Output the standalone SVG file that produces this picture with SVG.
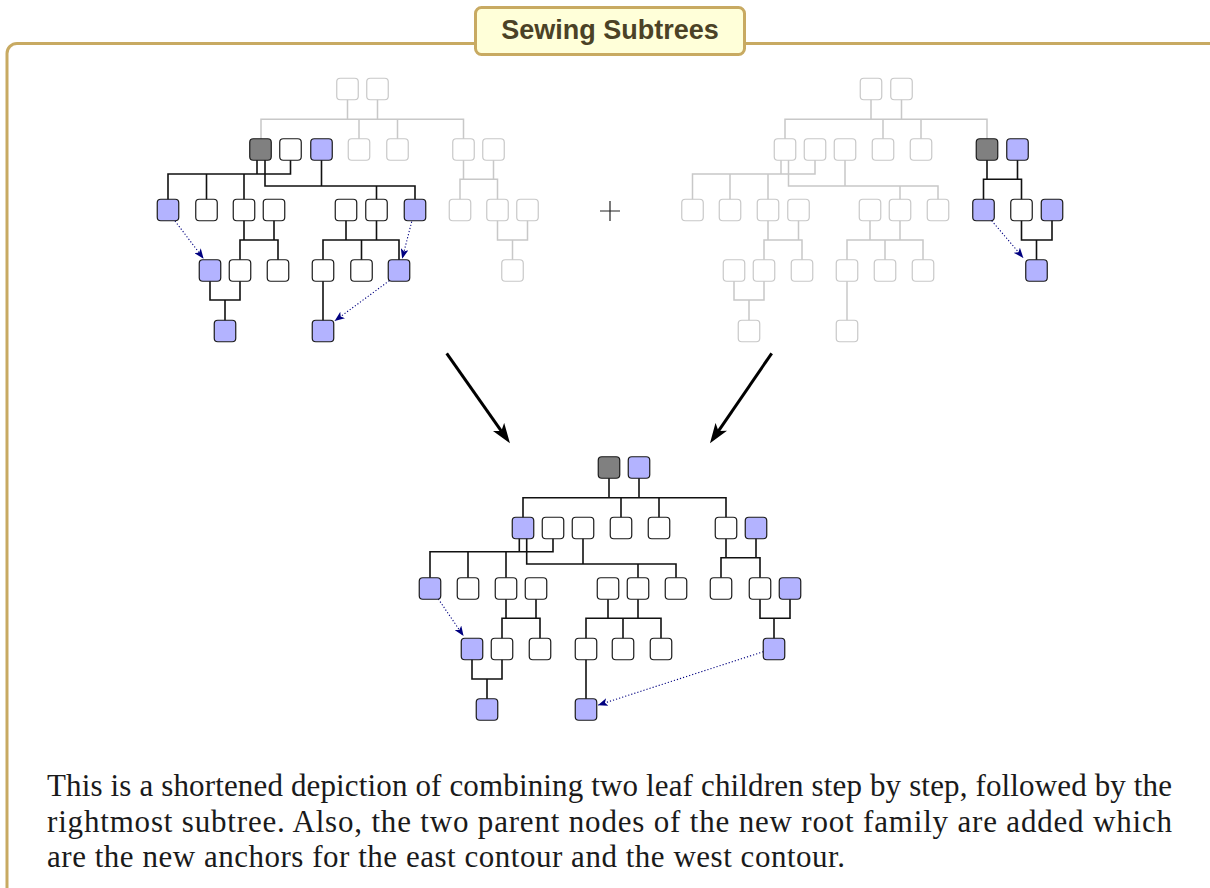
<svg xmlns="http://www.w3.org/2000/svg" width="1210" height="888" viewBox="0 0 1210 888">
<style>
.n{stroke-width:1.2;width:21.5px;height:21.5px}
.w{fill:#ffffff;stroke:#1a1a1a}
.b{fill:#b3b3ff;stroke:#1a1a1a}
.d{fill:#808080;stroke:#1a1a1a}
.f{fill:#ffffff;stroke:#c8c8c8}
.e{fill:none;stroke:#111;stroke-width:1.6;stroke-linecap:square}
.ef{fill:none;stroke:#c8c8c8;stroke-width:1.5;stroke-linecap:square}
.dot{fill:none;stroke:#000080;stroke-width:1.1;stroke-dasharray:1.2 2}
.big{fill:none;stroke:#000;stroke-width:3}
.para{font-family:"Liberation Serif","DejaVu Serif",serif;font-size:31px;fill:#1a1a1a}
</style>
<defs>
<marker id="ad" viewBox="0 0 10 8" markerUnits="userSpaceOnUse" markerWidth="10" markerHeight="8" refX="9.5" refY="4" orient="auto">
<path d="M0,0 L10,4 L0,8 L2.5,4 z" fill="#000080"/>
</marker>
<marker id="ab" viewBox="0 0 20 14" markerUnits="userSpaceOnUse" markerWidth="20" markerHeight="14" refX="6" refY="7" orient="auto">
<path d="M0,0 L20,7 L0,14 L5,7 z" fill="#000"/>
</marker>
</defs>
<rect x="0" y="0" width="1210" height="888" fill="#ffffff"/>
<g id="frame">
<rect x="7" y="43.5" width="1215" height="900" rx="10" fill="none" stroke="#c8aa62" stroke-width="3"/>
</g>
<g id="title">
<rect x="475.5" y="7.5" width="269" height="47" rx="6" fill="#ffffd9" stroke="#c8aa62" stroke-width="3"/>
<text x="610" y="39" text-anchor="middle" font-family="'Liberation Sans','DejaVu Sans',sans-serif" font-weight="bold" font-size="27" fill="#4b4226">Sewing Subtrees</text>
</g>
<g id="connectors">
<path class="ef" d="M347.5,99.75V119.3 M377.5,99.75V119.3 M261,119.3H463.5 M261,119.3V138.75 M359,119.3V138.75 M397.5,119.3V138.75 M463.5,119.3V138.75"/>
<path class="ef" d="M463.5,160.25V179.3 M493.5,160.25V179.3 M460,179.3H497.5 M460,179.3V199.25 M497.5,179.3V199.25"/>
<path class="ef" d="M497.5,220.75V240 M527.5,220.75V240 M497.5,240H527.5 M512.5,240V259.75"/>
<path class="e" d="M257,160.25V174 M290.5,160.25V174 M168,174H290.5 M168,174V199.25 M206.5,174V199.25 M244,174V199.25"/>
<path class="e" d="M265,160.25V186 M321.5,160.25V186 M265,186H415 M376.5,186V199.25 M415,186V199.25"/>
<path class="e" d="M244,220.75V240 M274,220.75V240 M240,240H278 M240,240V259.75 M278,240V259.75"/>
<path class="e" d="M346,220.75V240 M376.5,220.75V240 M323,240H399 M323,240V259.75 M361.5,240V259.75 M399,240V259.75"/>
<path class="e" d="M210,281.25V300 M240,281.25V300 M210,300H240 M225,300V320.25"/>
<path class="e" d="M323,281.25V320.25"/>
<path class="ef" d="M871,99.75V119.3 M901.5,99.75V119.3 M785,119.3H987 M785,119.3V138.75 M883,119.3V138.75 M921,119.3V138.75 M987,119.3V138.75"/>
<path class="ef" d="M781,160.25V174 M815,160.25V174 M692.5,174H815 M692.5,174V199.25 M730,174V199.25 M768,174V199.25"/>
<path class="ef" d="M788.5,160.25V186 M845,160.25V186 M788.5,186H938 M900,186V199.25 M938,186V199.25"/>
<path class="ef" d="M768,220.75V240 M798.5,220.75V240 M764,240H802 M764,240V259.75 M802,240V259.75"/>
<path class="ef" d="M870,220.75V240 M900,220.75V240 M847,240H923 M847,240V259.75 M885,240V259.75 M923,240V259.75"/>
<path class="ef" d="M734,281.25V300 M764,281.25V300 M734,300H764 M749,300V320.25"/>
<path class="ef" d="M847,281.25V320.25"/>
<path class="e" d="M987,160.25V179.3 M1017.5,160.25V179.3 M983.5,179.3H1021.5 M983.5,179.3V199.25 M1021.5,179.3V199.25"/>
<path class="e" d="M1021.5,220.75V240 M1052,220.75V240 M1021.5,240H1052 M1036.5,240V259.75"/>
<path class="e" d="M609,478.25V497.7 M639,478.25V497.7 M523,497.7H726 M523,497.7V517.25 M621,497.7V517.25 M659,497.7V517.25 M726,497.7V517.25"/>
<path class="e" d="M519.3,538.75V551.7 M553,538.75V551.7 M430,551.7H553 M430,551.7V577.75 M468,551.7V577.75 M506,551.7V577.75"/>
<path class="e" d="M526.7,538.75V564 M583,538.75V564 M526.7,564H676 M638,564V577.75 M676,564V577.75"/>
<path class="e" d="M726,538.75V557.7 M756,538.75V557.7 M721,557.7H760 M721,557.7V577.75 M760,557.7V577.75"/>
<path class="e" d="M506,599.25V618.3 M536,599.25V618.3 M502,618.3H540 M502,618.3V638.25 M540,618.3V638.25"/>
<path class="e" d="M608,599.25V618.3 M638,599.25V618.3 M586,618.3H661 M586,618.3V638.25 M623,618.3V638.25 M661,618.3V638.25"/>
<path class="e" d="M760,599.25V618.3 M790,599.25V618.3 M760,618.3H790 M774,618.3V638.25"/>
<path class="e" d="M472,659.75V679 M502,659.75V679 M472,679H502 M487,679V698.75"/>
<path class="e" d="M586,659.75V698.75"/>
<line class="dot" x1="175" y1="221" x2="203.3" y2="258.3" marker-end="url(#ad)"/>
<line class="dot" x1="411.7" y1="221.7" x2="402.3" y2="258.3" marker-end="url(#ad)"/>
<line class="dot" x1="389.3" y1="280.7" x2="335" y2="320.7" marker-end="url(#ad)"/>
<line class="dot" x1="991.7" y1="220.7" x2="1023" y2="257.5" marker-end="url(#ad)"/>
<line class="dot" x1="438.3" y1="599" x2="463.3" y2="635.7" marker-end="url(#ad)"/>
<line class="dot" x1="763.3" y1="651.7" x2="598.3" y2="705" marker-end="url(#ad)"/>
<line class="big" x1="446.7" y1="353.3" x2="501.9" y2="431.8" marker-end="url(#ab)"/>
<line class="big" x1="771.7" y1="353.3" x2="717.9" y2="431.8" marker-end="url(#ab)"/>
</g>
<g id="plus"><path d="M600,211H620 M610,201V221" stroke="#222" stroke-width="1.2" fill="none"/></g>
<g id="lf1"><rect class="n f" x="336.75" y="78.25" rx="3.5"/></g>
<g id="lf2"><rect class="n f" x="366.75" y="78.25" rx="3.5"/></g>
<g id="lf3"><rect class="n f" x="348.25" y="138.75" rx="3.5"/></g>
<g id="lf4"><rect class="n f" x="386.75" y="138.75" rx="3.5"/></g>
<g id="lf5"><rect class="n f" x="452.75" y="138.75" rx="3.5"/></g>
<g id="lf6"><rect class="n f" x="482.75" y="138.75" rx="3.5"/></g>
<g id="lf7"><rect class="n f" x="449.25" y="199.25" rx="3.5"/></g>
<g id="lf8"><rect class="n f" x="486.75" y="199.25" rx="3.5"/></g>
<g id="lf9"><rect class="n f" x="516.75" y="199.25" rx="3.5"/></g>
<g id="lf10"><rect class="n f" x="501.75" y="259.75" rx="3.5"/></g>
<g id="ld"><rect class="n d" x="249.75" y="138.75" rx="3.5"/></g>
<g id="lw1"><rect class="n w" x="279.75" y="138.75" rx="3.5"/></g>
<g id="lb1"><rect class="n b" x="310.75" y="138.75" rx="3.5"/></g>
<g id="lb2"><rect class="n b" x="157.25" y="199.25" rx="3.5"/></g>
<g id="lw2"><rect class="n w" x="195.75" y="199.25" rx="3.5"/></g>
<g id="lw3"><rect class="n w" x="233.25" y="199.25" rx="3.5"/></g>
<g id="lw4"><rect class="n w" x="263.25" y="199.25" rx="3.5"/></g>
<g id="lw5"><rect class="n w" x="335.25" y="199.25" rx="3.5"/></g>
<g id="lw6"><rect class="n w" x="365.75" y="199.25" rx="3.5"/></g>
<g id="lb3"><rect class="n b" x="404.25" y="199.25" rx="3.5"/></g>
<g id="lb4"><rect class="n b" x="199.25" y="259.75" rx="3.5"/></g>
<g id="lw7"><rect class="n w" x="229.25" y="259.75" rx="3.5"/></g>
<g id="lw8"><rect class="n w" x="267.25" y="259.75" rx="3.5"/></g>
<g id="lw9"><rect class="n w" x="312.25" y="259.75" rx="3.5"/></g>
<g id="lw10"><rect class="n w" x="350.75" y="259.75" rx="3.5"/></g>
<g id="lb5"><rect class="n b" x="388.25" y="259.75" rx="3.5"/></g>
<g id="lb6"><rect class="n b" x="214.25" y="320.25" rx="3.5"/></g>
<g id="lb7"><rect class="n b" x="312.25" y="320.25" rx="3.5"/></g>
<g id="rf1"><rect class="n f" x="860.25" y="78.25" rx="3.5"/></g>
<g id="rf2"><rect class="n f" x="890.75" y="78.25" rx="3.5"/></g>
<g id="rf3"><rect class="n f" x="774.25" y="138.75" rx="3.5"/></g>
<g id="rf4"><rect class="n f" x="804.25" y="138.75" rx="3.5"/></g>
<g id="rf5"><rect class="n f" x="834.25" y="138.75" rx="3.5"/></g>
<g id="rf6"><rect class="n f" x="872.25" y="138.75" rx="3.5"/></g>
<g id="rf7"><rect class="n f" x="910.25" y="138.75" rx="3.5"/></g>
<g id="rf8"><rect class="n f" x="681.75" y="199.25" rx="3.5"/></g>
<g id="rf9"><rect class="n f" x="719.25" y="199.25" rx="3.5"/></g>
<g id="rf10"><rect class="n f" x="757.25" y="199.25" rx="3.5"/></g>
<g id="rf11"><rect class="n f" x="787.75" y="199.25" rx="3.5"/></g>
<g id="rf12"><rect class="n f" x="859.25" y="199.25" rx="3.5"/></g>
<g id="rf13"><rect class="n f" x="889.25" y="199.25" rx="3.5"/></g>
<g id="rf14"><rect class="n f" x="927.25" y="199.25" rx="3.5"/></g>
<g id="rf15"><rect class="n f" x="723.25" y="259.75" rx="3.5"/></g>
<g id="rf16"><rect class="n f" x="753.25" y="259.75" rx="3.5"/></g>
<g id="rf17"><rect class="n f" x="791.25" y="259.75" rx="3.5"/></g>
<g id="rf18"><rect class="n f" x="836.25" y="259.75" rx="3.5"/></g>
<g id="rf19"><rect class="n f" x="874.25" y="259.75" rx="3.5"/></g>
<g id="rf20"><rect class="n f" x="912.25" y="259.75" rx="3.5"/></g>
<g id="rf21"><rect class="n f" x="738.25" y="320.25" rx="3.5"/></g>
<g id="rf22"><rect class="n f" x="836.25" y="320.25" rx="3.5"/></g>
<g id="rd"><rect class="n d" x="976.25" y="138.75" rx="3.5"/></g>
<g id="rb1"><rect class="n b" x="1006.75" y="138.75" rx="3.5"/></g>
<g id="rb2"><rect class="n b" x="972.75" y="199.25" rx="3.5"/></g>
<g id="rw1"><rect class="n w" x="1010.75" y="199.25" rx="3.5"/></g>
<g id="rb3"><rect class="n b" x="1041.25" y="199.25" rx="3.5"/></g>
<g id="rb4"><rect class="n b" x="1025.75" y="259.75" rx="3.5"/></g>
<g id="bd"><rect class="n d" x="598.25" y="456.75" rx="3.5"/></g>
<g id="bb1"><rect class="n b" x="628.25" y="456.75" rx="3.5"/></g>
<g id="bb2"><rect class="n b" x="512.25" y="517.25" rx="3.5"/></g>
<g id="bw1"><rect class="n w" x="542.25" y="517.25" rx="3.5"/></g>
<g id="bw2"><rect class="n w" x="572.25" y="517.25" rx="3.5"/></g>
<g id="bw3"><rect class="n w" x="610.25" y="517.25" rx="3.5"/></g>
<g id="bw4"><rect class="n w" x="648.25" y="517.25" rx="3.5"/></g>
<g id="bw5"><rect class="n w" x="715.25" y="517.25" rx="3.5"/></g>
<g id="bb3"><rect class="n b" x="745.25" y="517.25" rx="3.5"/></g>
<g id="bb4"><rect class="n b" x="419.25" y="577.75" rx="3.5"/></g>
<g id="bw6"><rect class="n w" x="457.25" y="577.75" rx="3.5"/></g>
<g id="bw7"><rect class="n w" x="495.25" y="577.75" rx="3.5"/></g>
<g id="bw8"><rect class="n w" x="525.25" y="577.75" rx="3.5"/></g>
<g id="bw9"><rect class="n w" x="597.25" y="577.75" rx="3.5"/></g>
<g id="bw10"><rect class="n w" x="627.25" y="577.75" rx="3.5"/></g>
<g id="bw11"><rect class="n w" x="665.25" y="577.75" rx="3.5"/></g>
<g id="bw12"><rect class="n w" x="710.25" y="577.75" rx="3.5"/></g>
<g id="bw13"><rect class="n w" x="749.25" y="577.75" rx="3.5"/></g>
<g id="bb5"><rect class="n b" x="779.25" y="577.75" rx="3.5"/></g>
<g id="bb6"><rect class="n b" x="461.25" y="638.25" rx="3.5"/></g>
<g id="bw14"><rect class="n w" x="491.25" y="638.25" rx="3.5"/></g>
<g id="bw15"><rect class="n w" x="529.25" y="638.25" rx="3.5"/></g>
<g id="bw16"><rect class="n w" x="575.25" y="638.25" rx="3.5"/></g>
<g id="bw17"><rect class="n w" x="612.25" y="638.25" rx="3.5"/></g>
<g id="bw18"><rect class="n w" x="650.25" y="638.25" rx="3.5"/></g>
<g id="bb7"><rect class="n b" x="763.25" y="638.25" rx="3.5"/></g>
<g id="bb8"><rect class="n b" x="476.25" y="698.75" rx="3.5"/></g>
<g id="bb9"><rect class="n b" x="575.25" y="698.75" rx="3.5"/></g>
<g id="caption">
<text class="para" x="47" y="796" textLength="1125" lengthAdjust="spacing">This is a shortened depiction of combining two leaf children step by step, followed by the</text>
<text class="para" x="47" y="832" textLength="1125" lengthAdjust="spacing">rightmost subtree. Also, the two parent nodes of the new root family are added which</text>
<text class="para" x="47" y="867" textLength="798" lengthAdjust="spacing">are the new anchors for the east contour and the west contour.</text>
</g>
</svg>
